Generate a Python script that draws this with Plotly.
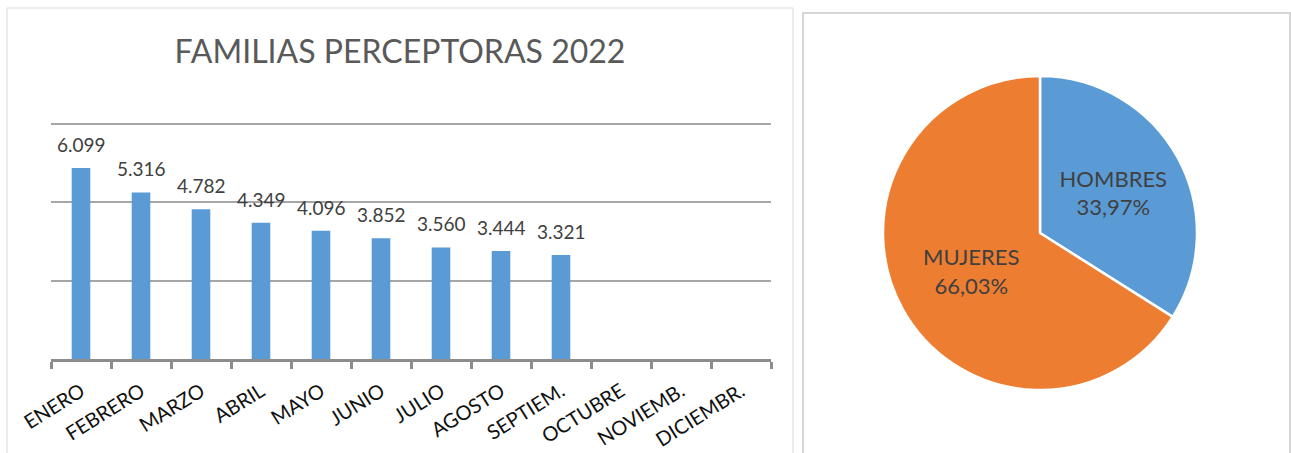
import plotly.graph_objects as go

W, H = 1291, 453

months = ["ENERO", "FEBRERO", "MARZO", "ABRIL", "MAYO", "JUNIO", "JULIO",
          "AGOSTO", "SEPTIEM.", "OCTUBRE", "NOVIEMB.", "DICIEMBR."]
familias = [6099, 5316, 4782, 4349, 4096, 3852, 3560, 3444, 3321, None, None, None]
familias_labels = ["6.099", "5.316", "4.782", "4.349", "4.096", "3.852", "3.560",
                   "3.444", "3.321", "", "", ""]

sexo = ["HOMBRES", "MUJERES"]
sexo_pct = [33.97, 66.03]

FONT = "Lato"

def px_x(p):
    return p / W

def px_y(p):
    return (H - p) / H

# plot area: y=0 at pixel 359, y=7500 at pixel 124
Y0_PX, Y7500_PX = 359, 124
YMAX = 7540
top_px = Y0_PX - (Y0_PX - Y7500_PX) * YMAX / 7500

fig = go.Figure()

fig.add_trace(go.Bar(
    x=months, y=familias, width=0.31,
    marker=dict(color="#5B9BD5", line=dict(width=0)),
    xaxis="x", yaxis="y", showlegend=False, hoverinfo="x+y",
))

for m, v, t in zip(months, familias, familias_labels):
    if v is None:
        continue
    fig.add_annotation(x=m, y=v, text=t, showarrow=False, xref="x", yref="y",
                       yanchor="bottom", yshift=10,
                       font=dict(family=FONT, size=19, color="#404040"))

fig.add_trace(go.Pie(
    labels=sexo, values=sexo_pct, sort=False, direction="clockwise", rotation=0,
    marker=dict(colors=["#5B9BD5", "#ED7D31"], line=dict(color="white", width=2.5)),
    texttemplate="%{label}<br>%{percent:.2%}", textposition="inside",
    insidetextorientation="horizontal",
    textfont=dict(family=FONT, size=22, color="#404040"),
    domain=dict(x=[px_x(1040 - 157), px_x(1040 + 157)],
                y=[px_y(233 + 157), px_y(233 - 157)]),
    showlegend=False, automargin=False,
))

fig.update_layout(
    width=W, height=H, margin=dict(l=0, r=0, t=0, b=0, pad=0, autoexpand=False),
    paper_bgcolor="white", plot_bgcolor="white",
    separators=",.",
    font=dict(family=FONT, color="#404040"),
    title=dict(text="FAMILIAS PERCEPTORAS 2022", x=px_x(400), y=px_y(52),
               xanchor="center", yanchor="middle", xref="paper", yref="paper",
               automargin=False,
               font=dict(family=FONT, size=32, color="#595959")),
    xaxis=dict(domain=[px_x(51), px_x(771)], range=[-0.5, 11.5], automargin=False,
               showgrid=False, showline=True, linecolor="#8c8c8c", linewidth=3,
               ticks="outside", tickson="boundaries", ticklen=7, tickwidth=3,
               tickcolor="#8c8c8c", tickangle=-32, ticklabelstandoff=10,
               tickfont=dict(family=FONT, size=20, color="#111111"),
               fixedrange=True),
    yaxis=dict(domain=[px_y(Y0_PX), px_y(top_px)], range=[0, YMAX], dtick=2500,
               automargin=False,
               showgrid=True, gridcolor="#a6a6a6", gridwidth=1.5,
               showticklabels=False, zeroline=False, showline=False, fixedrange=True),
    shapes=[
        dict(type="rect", xref="paper", yref="paper",
             x0=px_x(7), x1=px_x(793), y0=-0.1, y1=px_y(8),
             line=dict(color="#d9d9d9", width=1), layer="below"),
        dict(type="rect", xref="paper", yref="paper",
             x0=px_x(803), x1=px_x(1290), y0=-0.1, y1=px_y(13),
             line=dict(color="#d6d6d6", width=2), layer="below"),
    ],
)

fig.write_html("out.html", config={"displayModeBar": False},
               post_script="document.body.style.margin='0';document.body.style.overflow='hidden';")
